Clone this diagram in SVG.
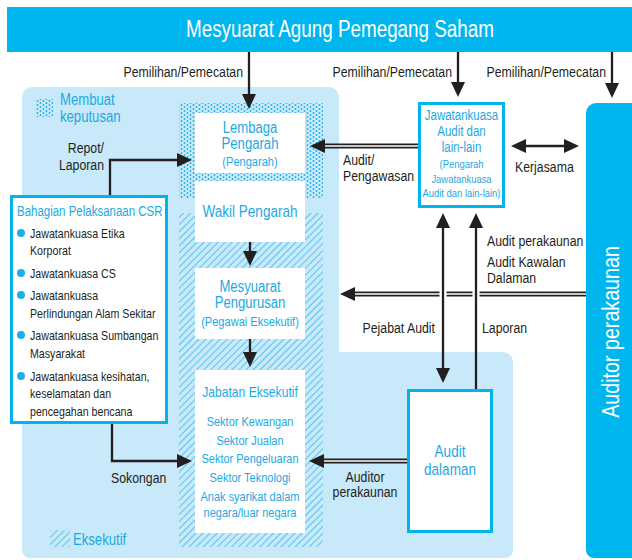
<svg xmlns="http://www.w3.org/2000/svg" width="632" height="560" viewBox="0 0 632 560">
<style>
text{font-family:"Liberation Sans",Arial,sans-serif;}
.lb{fill:#231f20;font-size:15px;}
.cy{fill:#1ca9e2;}
.box{fill:#fff;}
.cbox{fill:#fff;stroke:#00b5ec;stroke-width:3;}
.ln{fill:none;stroke:#231f20;stroke-width:2.3;}
.dlo{fill:none;stroke:#231f20;stroke-width:5;}
.dli{fill:none;stroke:#fff;stroke-width:1.6;}
.halo{fill:none;stroke:#fff;stroke-width:7;}
.mid{text-anchor:middle;}
.end{text-anchor:end;}
</style>
<defs>
<marker id="ah" markerUnits="userSpaceOnUse" markerWidth="15" markerHeight="14" refX="0" refY="7" orient="auto-start-reverse">
<path d="M0,0 L15,7 L0,14 Z" fill="#231f20"/>
</marker>
<pattern id="dots" patternUnits="userSpaceOnUse" width="6" height="4">
<circle cx="1.5" cy="1" r="0.95" fill="#1cb0e8"/>
<circle cx="4.5" cy="3" r="0.95" fill="#1cb0e8"/>
</pattern>
<pattern id="hatch" patternUnits="userSpaceOnUse" width="5" height="5" patternTransform="rotate(45)">
<line x1="0" y1="0" x2="0" y2="5" stroke="#1cb0e8" stroke-width="1.3"/>
</pattern>
</defs>

<rect width="632" height="560" fill="#fff"/>

<g id="panel-main">
<path d="M32,87 H329 A10,10 0 0 1 339,97 V352 H503 A10,10 0 0 1 513,362 V550 A8,8 0 0 1 505,558 H30 A8,8 0 0 1 22,550 V97 A10,10 0 0 1 32,87 Z" fill="#c7e9fa"/>
<rect x="179" y="103" width="144" height="95" fill="url(#dots)"/>
<rect x="179" y="213" width="144" height="334" fill="url(#hatch)"/>
</g>

<g id="legend-keputusan">
<rect x="36" y="99" width="17" height="18" fill="url(#dots)"/>
<text transform="translate(60,105) scale(.82,1)" class="cy" font-size="16">Membuat</text>
<text transform="translate(60,122) scale(.82,1)" class="cy" font-size="16">keputusan</text>
</g>

<g id="legend-eksekutif">
<rect x="50" y="530" width="20" height="17" fill="url(#hatch)"/>
<text transform="translate(73,545) scale(.82,1)" class="cy" font-size="16">Eksekutif</text>
</g>

<g id="banner">
<rect x="7" y="7" width="625" height="45" fill="#00b6ee"/>
<text transform="translate(340,37) scale(.82,1)" class="mid" fill="#fff" font-size="23">Mesyuarat Agung Pemegang Saham</text>
</g>

<g id="auditor-perakaunan">
<path d="M596,103 H632 V558 H594 A8,8 0 0 1 586,550 V113 A10,10 0 0 1 596,103 Z" fill="#00b6ee"/>
<text transform="translate(619,332) rotate(-90) scale(.82,1)" class="mid" fill="#fff" font-size="24">Auditor perakaunan</text>
</g>

<g id="lembaga-pengarah">
<rect x="195" y="113" width="110" height="60" class="box"/>
<text transform="translate(250,133) scale(.82,1)" class="cy mid" font-size="16">Lembaga</text>
<text transform="translate(250,149) scale(.82,1)" class="cy mid" font-size="16">Pengarah</text>
<text transform="translate(250,166) scale(.82,1)" class="cy mid" font-size="13.5">(Pengarah)</text>
</g>

<g id="wakil-pengarah">
<rect x="195" y="181" width="110" height="61" class="box"/>
<text transform="translate(250,217) scale(.82,1)" class="cy mid" font-size="16.5">Wakil Pengarah</text>
</g>

<g id="mesyuarat-pengurusan">
<rect x="195" y="268" width="110" height="71" class="box"/>
<text transform="translate(250,292) scale(.82,1)" class="cy mid" font-size="16">Mesyuarat</text>
<text transform="translate(250,308) scale(.82,1)" class="cy mid" font-size="16">Pengurusan</text>
<text transform="translate(250,326) scale(.82,1)" class="cy mid" font-size="13.5">(Pegawai Eksekutif)</text>
</g>

<g id="jabatan-eksekutif">
<rect x="195" y="370" width="110" height="163" class="box"/>
<text transform="translate(250,397) scale(.82,1)" class="cy mid" font-size="14.8">Jabatan Eksekutif</text>
<text transform="translate(250,426) scale(.82,1)" class="cy mid" font-size="13.4">Sektor Kewangan</text>
<text transform="translate(250,445) scale(.82,1)" class="cy mid" font-size="13.4">Sektor Jualan</text>
<text transform="translate(250,463) scale(.82,1)" class="cy mid" font-size="13.4">Sektor Pengeluaran</text>
<text transform="translate(250,482) scale(.82,1)" class="cy mid" font-size="13.4">Sektor Teknologi</text>
<text transform="translate(250,501) scale(.82,1)" class="cy mid" font-size="13.4">Anak syarikat dalam</text>
<text transform="translate(250,517) scale(.82,1)" class="cy mid" font-size="13.4">negara/luar negara</text>
</g>

<g id="csr">
<rect x="11.5" y="196.5" width="155" height="226" class="cbox"/>
<text transform="translate(17,216) scale(.82,1)" class="cy" font-size="14">Bahagian Pelaksanaan CSR</text>
<g fill="#1cb0e8">
<circle cx="21" cy="233" r="4"/>
<circle cx="21" cy="273" r="4"/>
<circle cx="21" cy="295" r="4"/>
<circle cx="21" cy="335" r="4"/>
<circle cx="21" cy="376" r="4"/>
</g>
<g fill="#231f20" font-size="13">
<text transform="translate(30,238) scale(.82,1)">Jawatankuasa Etika</text>
<text transform="translate(30,255) scale(.82,1)">Korporat</text>
<text transform="translate(30,278) scale(.82,1)">Jawatankuasa CS</text>
<text transform="translate(30,300) scale(.82,1)">Jawatankuasa</text>
<text transform="translate(30,318) scale(.82,1)">Perlindungan Alam Sekitar</text>
<text transform="translate(30,340) scale(.82,1)">Jawatankuasa Sumbangan</text>
<text transform="translate(30,358) scale(.82,1)">Masyarakat</text>
<text transform="translate(30,381) scale(.82,1)">Jawatankuasa kesihatan,</text>
<text transform="translate(30,398) scale(.82,1)">keselamatan dan</text>
<text transform="translate(30,416) scale(.82,1)">pencegahan bencana</text>
</g>
</g>

<g id="jawatankuasa-audit">
<rect x="419.5" y="103.5" width="84" height="103" class="cbox"/>
<text transform="translate(461.5,120) scale(.82,1)" class="cy mid" font-size="14">Jawatankuasa</text>
<text transform="translate(461.5,136) scale(.82,1)" class="cy mid" font-size="14">Audit dan</text>
<text transform="translate(461.5,152) scale(.82,1)" class="cy mid" font-size="14">lain-lain</text>
<text transform="translate(461.5,168) scale(.82,1)" class="cy mid" font-size="11.5">(Pengarah</text>
<text transform="translate(461.5,183) scale(.82,1)" class="cy mid" font-size="11.5">Jawatankuasa</text>
<text transform="translate(461.5,197) scale(.82,1)" class="cy mid" font-size="11.5">Audit dan lain-lain)</text>
</g>

<g id="audit-dalaman">
<rect x="408.5" y="390.5" width="83" height="141" class="cbox"/>
<text transform="translate(450,457) scale(.82,1)" class="cy mid" font-size="16.5">Audit</text>
<text transform="translate(450,475) scale(.82,1)" class="cy mid" font-size="16.5">dalaman</text>
</g>

<g id="connectors">
<path class="ln" d="M249,52 V94" marker-end="url(#ah)"/>
<path class="ln" d="M458,52 V82" marker-end="url(#ah)"/>
<path class="ln" d="M612,52 V83" marker-end="url(#ah)"/>
<path class="ln" d="M250,242 V251" marker-end="url(#ah)"/>
<path class="ln" d="M250,339 V352" marker-end="url(#ah)"/>
<path class="ln" d="M110,195 V160 H177" marker-end="url(#ah)"/>
<path class="ln" d="M112,424 V461 H177" marker-end="url(#ah)"/>
<path class="dlo" d="M418,146 H325"/>
<path class="dli" d="M418,146 H325" marker-end="url(#ah)"/>
<path class="ln" d="M526,146 H564" marker-start="url(#ah)" marker-end="url(#ah)"/>
<path class="dlo" d="M586,294 H355"/>
<path class="dli" d="M586,294 H355" marker-end="url(#ah)"/>
<path class="halo" d="M443,289 V299 M476,289 V299"/>
<path class="ln" d="M443,228 V368" marker-start="url(#ah)" marker-end="url(#ah)"/>
<path class="ln" d="M476,389 V228" marker-end="url(#ah)"/>
<path class="dlo" d="M407,461 H324"/>
<path class="dli" d="M407,461 H324" marker-end="url(#ah)"/>
</g>

<g id="labels" class="lb">
<text transform="translate(243,77) scale(.82,1)" class="lb end">Pemilihan/Pemecatan</text>
<text transform="translate(452,77) scale(.82,1)" class="lb end">Pemilihan/Pemecatan</text>
<text transform="translate(606,77) scale(.82,1)" class="lb end">Pemilihan/Pemecatan</text>
<text transform="translate(104,153) scale(.82,1)" class="lb end">Repot/</text>
<text transform="translate(104,170) scale(.82,1)" class="lb end">Laporan</text>
<text transform="translate(343,165) scale(.82,1)" class="lb">Audit/</text>
<text transform="translate(343,181) scale(.82,1)" class="lb">Pengawasan</text>
<text transform="translate(515,172) scale(.82,1)" class="lb">Kerjasama</text>
<text transform="translate(487,246) scale(.82,1)" class="lb">Audit perakaunan</text>
<text transform="translate(487,267) scale(.82,1)" class="lb">Audit Kawalan</text>
<text transform="translate(487,283) scale(.82,1)" class="lb">Dalaman</text>
<text transform="translate(435,333) scale(.82,1)" class="lb end">Pejabat Audit</text>
<text transform="translate(482,333) scale(.82,1)" class="lb">Laporan</text>
<text transform="translate(111,483) scale(.82,1)" class="lb">Sokongan</text>
<text transform="translate(365,482) scale(.82,1)" class="lb mid">Auditor</text>
<text transform="translate(365,497) scale(.82,1)" class="lb mid">perakaunan</text>
</g>
</svg>
